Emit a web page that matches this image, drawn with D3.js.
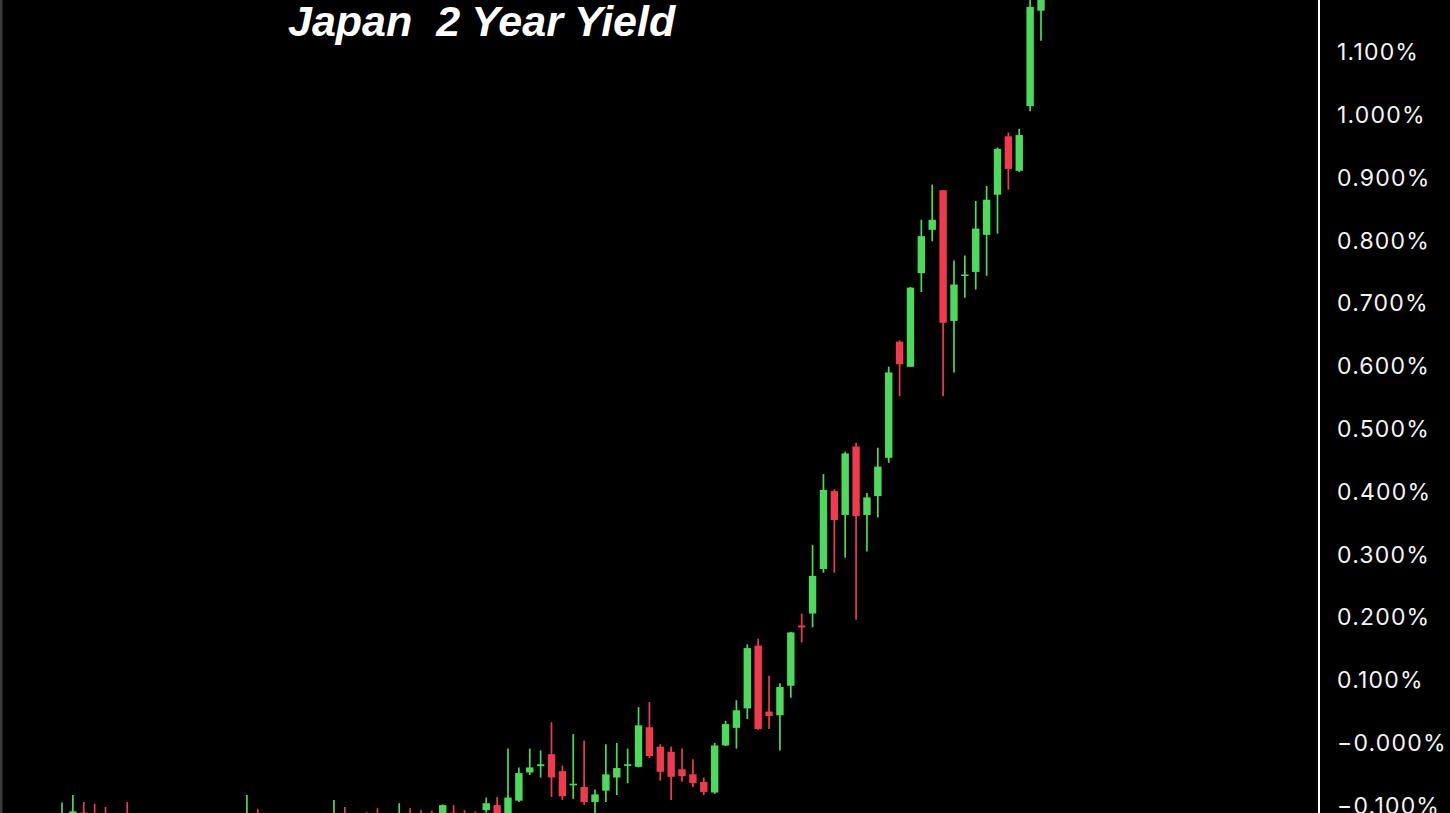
<!DOCTYPE html>
<html lang="en">
<head>
    <meta charset="UTF-8">
    <title>Japan 2 Year Yield</title>
    <script src="https://cdn.jsdelivr.net/npm/d3@7"></script>
    <style>
        html, body {margin: 0; padding: 0; background: #000; overflow: hidden;}
    </style>
</head>
<body>
</body>
</html>
<script>
    //candle values in percent, one entry per period
    var open_data = [
        -0.130, -0.125, -0.112, -0.115, -0.118, -0.125, -0.118,
        -0.128, -0.126, -0.129, -0.127, -0.130, -0.128, -0.126, -0.129, -0.127, -0.128,
        -0.130, -0.115,
        -0.127, -0.129, -0.126, -0.128, -0.127, -0.129,
        -0.130, -0.115, -0.125, -0.117, -0.114, -0.122, -0.128, -0.115, -0.116, -0.117,
        -0.125, -0.112, -0.115, -0.116,
        -0.108, -0.100, -0.120, -0.093, -0.048, -0.038, -0.019, -0.046, -0.068, -0.071,
        -0.095, -0.077, -0.056, -0.037, -0.039, 0.024, -0.007, -0.015, -0.043, -0.051,
        -0.063, -0.080, -0.005, 0.023, 0.054, 0.154, 0.049, 0.043, 0.090, 0.186,
        0.205, 0.276, 0.400, 0.362, 0.471, 0.362, 0.392, 0.453, 0.638, 0.598,
        0.747, 0.816, 0.879, 0.671, 0.743, 0.749, 0.808, 0.872, 0.965, 0.910,
        1.013, 1.165
    ];
    var close_data = [
        -0.115, -0.110, -0.125, -0.128, -0.130, -0.128, -0.130,
        -0.125, -0.129, -0.126, -0.130, -0.127, -0.125, -0.129, -0.126, -0.130, -0.125,
        -0.117, -0.125,
        -0.129, -0.126, -0.128, -0.125, -0.129, -0.126,
        -0.118, -0.125, -0.122, -0.125, -0.124, -0.120, -0.116, -0.126, -0.125, -0.126,
        -0.100, -0.124, -0.125, -0.126,
        -0.097, -0.120, -0.088, -0.049, -0.040, -0.035, -0.056, -0.086, -0.066, -0.095,
        -0.083, -0.051, -0.041, -0.035, 0.027, -0.022, -0.047, -0.055, -0.054, -0.065,
        -0.079, -0.005, 0.029, 0.051, 0.150, 0.021, 0.042, 0.088, 0.175, 0.183,
        0.265, 0.402, 0.354, 0.460, 0.360, 0.390, 0.439, 0.589, 0.602, 0.724,
        0.806, 0.832, 0.668, 0.729, 0.745, 0.818, 0.864, 0.945, 0.913, 0.967,
        1.171, 1.195
    ];
    var high_data = [
        -0.096, -0.084, -0.095, -0.098, -0.103, -0.116, -0.095,
        -0.118, -0.117, -0.119, -0.116, -0.120, -0.118, -0.117, -0.119, -0.116, -0.118,
        -0.084, -0.106,
        -0.118, -0.117, -0.119, -0.116, -0.118, -0.117,
        -0.092, -0.103, -0.115, -0.111, -0.105, -0.115, -0.097, -0.105, -0.108, -0.109,
        -0.099, -0.100, -0.108, -0.110,
        -0.088, -0.087, -0.010, -0.040, -0.010, -0.013, 0.032, -0.037, 0.013, 0.003,
        -0.075, -0.003, -0.001, -0.010, 0.056, 0.064, -0.003, -0.007, -0.010, -0.027,
        -0.056, -0.001, 0.034, 0.067, 0.156, 0.165, 0.106, 0.094, 0.176, 0.205,
        0.314, 0.427, 0.403, 0.463, 0.477, 0.397, 0.469, 0.598, 0.640, 0.725,
        0.832, 0.888, 0.879, 0.767, 0.775, 0.862, 0.886, 0.947, 0.971, 0.977,
        1.190, 1.205
    ];
    var low_data = [
        -0.140, -0.130, -0.135, -0.140, -0.140, -0.140, -0.140,
        -0.135, -0.138, -0.136, -0.139, -0.137, -0.135, -0.138, -0.136, -0.139, -0.135,
        -0.135, -0.135,
        -0.138, -0.136, -0.139, -0.135, -0.138, -0.136,
        -0.135, -0.135, -0.130, -0.132, -0.131, -0.128, -0.133, -0.132, -0.131, -0.132,
        -0.130, -0.130, -0.131, -0.132,
        -0.112, -0.125, -0.125, -0.095, -0.052, -0.056, -0.087, -0.092, -0.090, -0.100,
        -0.113, -0.095, -0.084, -0.065, -0.040, -0.025, -0.061, -0.092, -0.063, -0.071,
        -0.084, -0.082, -0.006, -0.010, 0.037, 0.020, 0.021, -0.013, 0.071, 0.159,
        0.183, 0.270, 0.270, 0.294, 0.195, 0.304, 0.358, 0.445, 0.551, 0.598,
        0.717, 0.798, 0.551, 0.589, 0.708, 0.721, 0.743, 0.810, 0.880, 0.908,
        1.005, 1.117
    ];

    //right axis tick values and labels
    var tick_values = [1.1, 1.0, 0.9, 0.8, 0.7, 0.6, 0.5, 0.4, 0.3, 0.2, 0.1, 0, -0.1];
    var tick_labels = ["1.100%", "1.000%", "0.900%", "0.800%", "0.700%", "0.600%",
        "0.500%", "0.400%", "0.300%", "0.200%", "0.100%", "\u22120.000%", "\u22120.100%"];

    var title_text = "Japan  2 Year Yield";

    //build rows
    var candles = open_data.map(function (d, i) {
        return {i: i, open: d, close: close_data[i], high: high_data[i], low: low_data[i]};
    });

    //canvas
    var width = 1450;
    var height = 813;
    var svg = d3.select("body")
            .append("svg")
            .attr("width", width)
            .attr("height", height)
            .style("display", "block")
            .style("background", "#000");

    //scales
    var x = d3.scaleLinear()
            .domain([0, candles.length - 1])
            .range([62, 1041]);
    var y = d3.scaleLinear()
            .domain([-0.1, 1.1])
            .range([805.1, 51.5]);

    var green = "#4cd95c";
    var red = "#ef3b4d";
    var body_w = 7.4;

    //left edge
    svg.append("rect")
            .attr("x", 0)
            .attr("y", 0)
            .attr("width", 2.5)
            .attr("height", height)
            .attr("fill", "#3a3a3a");

    var g = svg.append("g").attr("class", "gcandles");

    //wicks
    g.selectAll("line")
            .data(candles)
            .enter().append("line")
            .attr("x1", function (d) { return x(d.i); })
            .attr("x2", function (d) { return x(d.i); })
            .attr("y1", function (d) { return y(d.high); })
            .attr("y2", function (d) { return y(d.low); })
            .attr("stroke-width", 1.7)
            .style("stroke", function (d) { return d.close >= d.open ? green : red; });

    //bodies
    g.selectAll("rect")
            .data(candles)
            .enter().append("rect")
            .attr("x", function (d) { return x(d.i) - body_w / 2; })
            .attr("y", function (d) { return y(Math.max(d.open, d.close)); })
            .attr("width", body_w)
            .attr("height", function (d) {
                return Math.max(1.6, Math.abs(y(d.open) - y(d.close)));
            })
            .attr("fill", function (d) { return d.close >= d.open ? green : red; });

    //axis divider
    svg.append("line")
            .attr("x1", 1319)
            .attr("x2", 1319)
            .attr("y1", 0)
            .attr("y2", height)
            .attr("stroke", "#fff")
            .attr("stroke-width", 2);

    //right axis
    var axis = d3.axisRight(y)
            .tickValues(tick_values)
            .tickSize(0)
            .tickPadding(0)
            .tickFormat(function (d, i) { return tick_labels[i]; });

    var ga = svg.append("g")
            .attr("transform", "translate(1337,0)")
            .call(axis);
    ga.select(".domain").remove();
    ga.selectAll("text")
            .attr("fill", "#f4f4f4")
            .attr("font-family", "Inter, 'Noto Sans', sans-serif")
            .attr("font-size", 23)
            .attr("letter-spacing", 1.2)
            .attr("dy", "0.36em");

    //title (keep the double space)
    svg.append("text")
            .attr("x", 288)
            .attr("y", 36)
            .attr("fill", "#fff")
            .attr("font-family", "'Liberation Sans', Arial, sans-serif")
            .attr("font-weight", "bold")
            .attr("font-style", "italic")
            .attr("font-size", 43)
            .style("white-space", "pre")
            .text(title_text);
</script>
